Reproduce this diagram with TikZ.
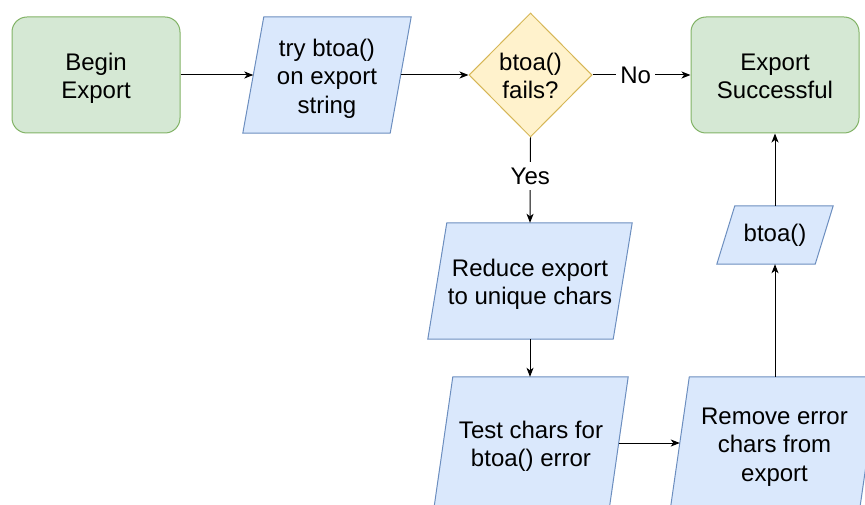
\documentclass[tikz,border=0pt]{standalone}
\usepackage{fontspec}
\setmainfont{Liberation Sans}
\usetikzlibrary{shapes.geometric,arrows.meta,backgrounds}

\definecolor{termfill}{HTML}{D5E8D4}
\definecolor{termline}{HTML}{82B366}
\definecolor{iofill}{HTML}{DAE8FC}
\definecolor{ioline}{HTML}{6C8EBF}
\definecolor{decfill}{HTML}{FFF2CC}
\definecolor{decline}{HTML}{D6B656}

% fixed line box: ascent on the first line, descent on the last
\newcommand\firstln{\rule{0pt}{24pt}}
\newcommand\lastln{\rule[-4.5pt]{0pt}{4.5pt}}

\tikzset{
  every node/.style={font=\fontsize{24}{28.5}\selectfont, align=center, inner sep=0pt},
  terminal/.style={draw=termline, fill=termfill, rounded corners=15pt,
    minimum width=168pt, minimum height=116pt, line width=1pt},
  decision/.style={diamond, aspect=1, draw=decline, fill=decfill,
    minimum width=123pt, minimum height=124pt, line width=1pt},
  ioshape/.style={draw=ioline, fill=iofill, line width=1pt},
  flow/.style={-{Stealth[length=9pt,width=7pt,inset=2.5pt]}, line width=1pt},
  tag/.style={fill=white, inner xsep=4pt, inner ysep=6pt}
}

% Parallelogram behind a node: the node box is the mid-height width,
% the top edge is pushed right and the bottom edge left by #2.
\newcommand\iopgram[2]{%
  \begin{scope}[on background layer]
    \draw[ioshape]
      ([xshift=#2]#1.north west) -- ([xshift=#2]#1.north east) --
      ([xshift=-#2]#1.south east) -- ([xshift=-#2]#1.south west) -- cycle;
  \end{scope}}

\begin{document}
\begin{tikzpicture}[x=1pt, y=-1pt]
  \useasboundingbox (0,0) rectangle (865,505);

  % top row
  \node[terminal] (begin) at (96,75) {\firstln Begin\\Export\lastln};
  \node[minimum width=147pt, minimum height=116pt] (try) at (327,75)
    {\firstln try btoa()\\on export\\string\lastln};
  \iopgram{try}{10.5pt}
  \node[decision] (fails) at (530.5,75) {\firstln btoa()\\fails?\lastln};
  \node[terminal] (done) at (775,75) {\firstln Export\\Successful\lastln};

  % recovery path
  \node[minimum width=185pt, minimum height=116pt] (reduce) at (530,281)
    {\firstln Reduce export\\to unique chars\lastln};
  \iopgram{reduce}{9.5pt}
  \node[minimum width=175pt, minimum height=132pt] (test) at (531,443)
    {\firstln Test chars for\\btoa() error\lastln};
  \iopgram{test}{9.5pt}
  \node[minimum width=189pt, minimum height=132pt] (remove) at (774.5,443)
    {\firstln Remove error\\chars from\\export\lastln};
  \iopgram{remove}{9.5pt}
  \node[minimum width=98pt, minimum height=58pt] (retry) at (775,235) {btoa()};
  \iopgram{retry}{9pt}

  % connectors
  \draw[flow] (begin.east) -- (try.west);
  \draw[flow] (try.east) -- (fails.west);
  \draw[flow] (fails.east) -- node[tag, pos=0.44] {No} (done.west);
  \draw[flow] (fails.south) -- node[tag, pos=0.45] {Yes} (reduce.north);
  \draw[flow] (reduce.south) -- (reduce.south |- test.north);
  \draw[flow] (test.east) -- (remove.west);
  \draw[flow] (retry.south |- remove.north) -- (retry.south);
  \draw[flow] (retry.north) -- (done.south);
\end{tikzpicture}
\end{document}
